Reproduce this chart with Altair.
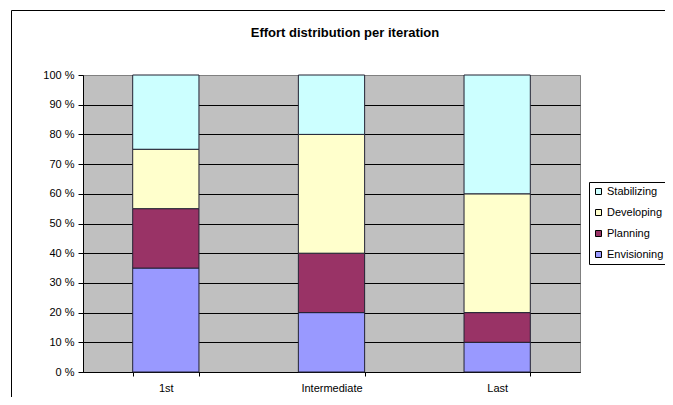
import altair as alt
import pandas as pd

iterations = ["1st", "Intermediate", "Last"]
phases = ["Stabilizing", "Developing", "Planning", "Envisioning"]
phase_colors = ["#CCFFFF", "#FFFFCC", "#993366", "#9999FF"]
envisioning = [35, 20, 10]
planning = [20, 20, 10]
developing = [20, 40, 40]
stabilizing = [25, 20, 40]
y_ticks = [0, 10, 20, 30, 40, 50, 60, 70, 80, 90, 100]
chart_title = "Effort distribution per iteration"

series = [("Envisioning", envisioning), ("Planning", planning),
          ("Developing", developing), ("Stabilizing", stabilizing)]
rows = []
for i, it in enumerate(iterations):
    for rank, (ph, vals) in enumerate(series):
        rows.append({"Iteration": it, "Phase": ph, "Share": vals[i], "Rank": rank})
df = pd.DataFrame(rows)

FONT = "Liberation Sans"

bars = alt.Chart(df).mark_bar(stroke="#222233", strokeWidth=1).encode(
    x=alt.X("Iteration:N", sort=iterations,
            scale=alt.Scale(paddingInner=0.6, paddingOuter=0.3),
            axis=alt.Axis(title=None, labelAngle=0, tickBand="extent", grid=False,
                          domainColor="black", tickColor="black", tickSize=4,
                          labelPadding=6, labelColor="black", labelFont=FONT,
                          labelFontSize=11)),
    y=alt.Y("Share:Q", stack="zero", scale=alt.Scale(domain=[0, 100], nice=False),
            axis=alt.Axis(title=None, values=y_ticks, labelExpr="datum.value + ' %'",
                          grid=True,
                          gridColor={"condition": {"test": "datum.value === 100", "value": "#808080"}, "value": "black"},
                          domainColor="black", tickColor="black", tickSize=5,
                          labelPadding=4, labelColor="black", labelFont=FONT,
                          labelFontSize=11)),
    color=alt.Color("Phase:N", scale=alt.Scale(domain=phases, range=phase_colors),
                    legend=alt.Legend(title=None, orient="none", legendX=506, legendY=107,
                                      fillColor="white", strokeColor="black", padding=4,
                                      symbolType="square", symbolSize=36,
                                      symbolStrokeColor="black", symbolStrokeWidth=1,
                                      labelFont=FONT, labelFontSize=11, labelColor="black",
                                      labelOffset=3, rowPadding=9)),
    order=alt.Order("Rank:Q"),
)

frame = alt.Chart(pd.DataFrame({"a": [0]})).mark_rect(
    fillOpacity=0, stroke="black", strokeWidth=1
).encode(
    x=alt.value(-71.5), x2=alt.value(620), y=alt.value(-64.5), y2=alt.value(360)
)

title = alt.Chart(pd.DataFrame({"t": [chart_title]})).mark_text(
    font=FONT, fontSize=13, fontWeight="bold", color="black",
    align="center", baseline="alphabetic"
).encode(text="t:N", x=alt.value(262), y=alt.value(-38))

chart = alt.layer(bars, frame, title).properties(
    width=497, height=297,
    autosize=alt.AutoSizeParams(type="none"),
    padding={"left": 75, "top": 67, "right": 85, "bottom": 25},
    background="white",
).configure_view(fill="#C0C0C0", stroke="#808080")

chart.save("out.html", embed_options={"renderer": "svg", "actions": False})
